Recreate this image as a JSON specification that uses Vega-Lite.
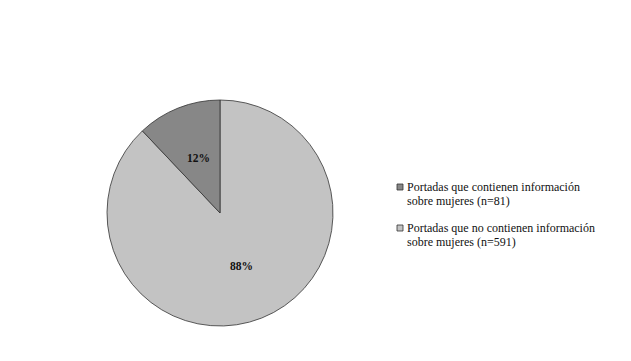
{
  "$schema": "https://vega.github.io/schema/vega-lite/v6.json",
  "width": 440,
  "height": 426,
  "autosize": {"type": "none"},
  "padding": {"left": 0, "top": 0, "right": 191, "bottom": 0},
  "background": "white",
  "view": {"stroke": null},
  "config": {
    "font": "Liberation Serif",
    "legend": {"labelFont": "Liberation Serif"}
  },
  "data": {"values": [
    {"cat": "Portadas que no contienen información|sobre mujeres (n=591)", "n": 591, "pct": "88%", "ord": 1},
    {"cat": "Portadas que contienen información|sobre mujeres (n=81)", "n": 81, "pct": "12%", "ord": 2}
  ]},
  "encoding": {
    "theta": {"field": "n", "type": "quantitative", "stack": true},
    "order": {"field": "ord", "type": "quantitative"}
  },
  "layer": [
    {
      "mark": {"type": "arc", "outerRadius": 113, "stroke": "#333333", "strokeWidth": 0.8},
      "encoding": {
        "color": {
          "field": "cat",
          "type": "nominal",
          "scale": {
            "domain": ["Portadas que contienen información|sobre mujeres (n=81)", "Portadas que no contienen información|sobre mujeres (n=591)"],
            "range": ["#878787", "#c3c3c3"]
          },
          "legend": {
            "title": null,
            "orient": "none",
            "legendX": 394,
            "legendY": 181,
            "padding": 0,
            "symbolType": "square",
            "symbolSize": 36,
            "symbolStrokeColor": "#333333",
            "symbolStrokeWidth": 0.8,
            "symbolOpacity": 1,
            "labelFont": "Liberation Serif",
            "labelFontSize": 12,
            "labelColor": "#111111",
            "labelExpr": "split(datum.label, '|')",
            "labelLineHeight": 14.5,
            "labelLimit": 400,
            "labelOffset": 1,
            "rowPadding": 15
          }
        }
      }
    },
    {
      "mark": {"type": "text", "radius": 58, "font": "Liberation Serif", "fontWeight": "bold", "fontSize": 11.5, "color": "#111111"},
      "encoding": {"text": {"field": "pct"}}
    }
  ]
}
